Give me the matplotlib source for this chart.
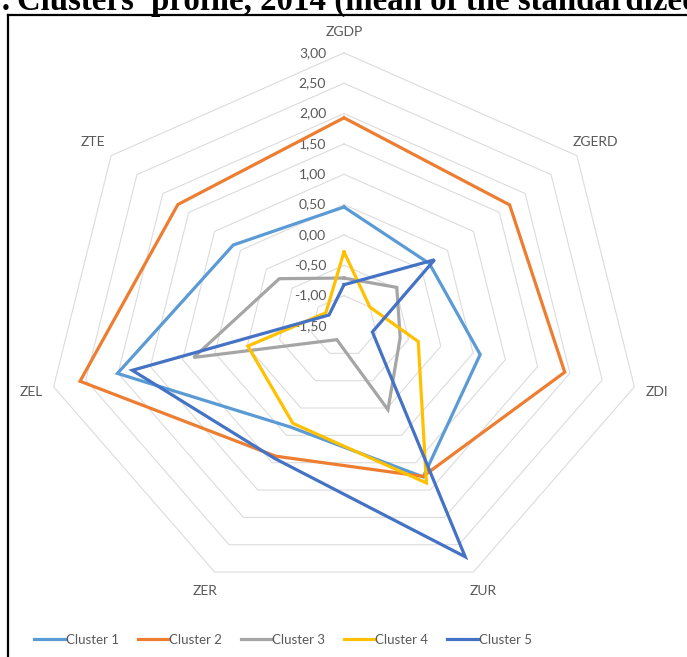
import numpy as np
import matplotlib
matplotlib.use('Agg')
import matplotlib.pyplot as plt
from matplotlib.lines import Line2D

# Axes (clockwise from the top) and cluster means
axes_labels = ['ZGDP', 'ZGERD', 'ZDI', 'ZUR', 'ZER', 'ZEL', 'ZTE']
cluster1 = [0.46, 0.15, 0.61, 1.26, 0.35, 2.01, 0.64]
cluster2 = [1.93, 1.70, 1.92, 1.25, 0.88, 2.59, 1.71]
cluster3 = [-0.71, -0.48, -0.63, 0.03, -1.25, 0.83, -0.25]
cluster4 = [-0.28, -1.00, -0.35, 1.37, 0.28, -0.01, -1.15]
cluster5 = [-0.82, 0.25, -1.06, 2.72, 0.92, 1.78, -1.21]
series_names = ['Cluster 1', 'Cluster 2', 'Cluster 3', 'Cluster 4', 'Cluster 5']
ring_values = [-1.5, -1.0, -0.5, 0.0, 0.5, 1.0, 1.5, 2.0, 2.5, 3.0]

colors = ['#5B9BD5', '#ED7D31', '#A5A5A5', '#FFC000', '#4472C4']
vmin = -1.5

plt.rcParams['font.family'] = ['Lato', 'DejaVu Sans']

fig = plt.figure(figsize=(6.87, 6.57), dpi=100)

# chart area (wider than tall, like the stretched original)
W, H = 687, 657
cx, cy = 344, 326
ux, uy = 66.2, 60.7
ax = fig.add_axes([(cx - 5 * ux) / W, (H - cy - 5 * uy) / H, 10 * ux / W, 10 * uy / H])
ax.set_xlim(-5, 5)
ax.set_ylim(-5, 5)
ax.axis('off')

n = len(axes_labels)
theta = np.arange(n) * 2 * np.pi / n
sx, sy = np.sin(theta), np.cos(theta)


def to_xy(vals):
    r = np.asarray(vals) - vmin
    x = r * sx
    y = r * sy
    return np.append(x, x[0]), np.append(y, y[0])


# grid rings
for v in ring_values[1:]:
    gx, gy = to_xy([v] * n)
    ax.plot(gx, gy, color='#DCDCDC', lw=0.8, zorder=1)

# value labels along the top spoke
for v in ring_values:
    ax.text(-0.27, v - vmin, f'{v:.2f}'.replace('.', ','), ha='right', va='center',
            fontsize=10, color='#595959', zorder=2)

# category labels
for lab, a, b in zip(axes_labels, sx, sy):
    ax.text(4.85 * a, 4.85 * b, lab, ha='center', va='center', fontsize=10, color='#595959')

# cluster lines
all_series = [cluster1, cluster2, cluster3, cluster4, cluster5]
for name, vals, c in zip(series_names, all_series, colors):
    px, py = to_xy(vals)
    ax.plot(px, py, color=c, lw=2.3, label=name, zorder=3, solid_joinstyle='miter')

handles, labels = ax.get_legend_handles_labels()
fig.legend(handles, labels, loc='center', ncol=5, bbox_to_anchor=(283 / W, (H - 640) / H),
           frameon=False, fontsize=9.5, handlelength=2.4, handletextpad=0.0,
           columnspacing=1.4, labelcolor='#595959')

# frame of the pasted chart (cut on the right and bottom)
fig.add_artist(Line2D([8 / W, 8 / W], [0, (H - 15) / H], color='black', lw=1.6))
fig.add_artist(Line2D([8 / W, 1], [(H - 15) / H, (H - 15) / H], color='black', lw=1.6))

# title, mostly cut off by the top edge as in the source page
fig.text(12 / W, (H - 10) / H, 'Figure 1:', ha='right', va='baseline', fontsize=23.7,
         fontweight='bold', family='Liberation Serif')
fig.text(17 / W, (H - 10) / H, "Clusters' profile, 2014 (mean of the standardized values)",
         ha='left', va='baseline', fontsize=23.7, fontweight='bold', family='Liberation Serif')

fig.savefig('out.png', dpi=100)
